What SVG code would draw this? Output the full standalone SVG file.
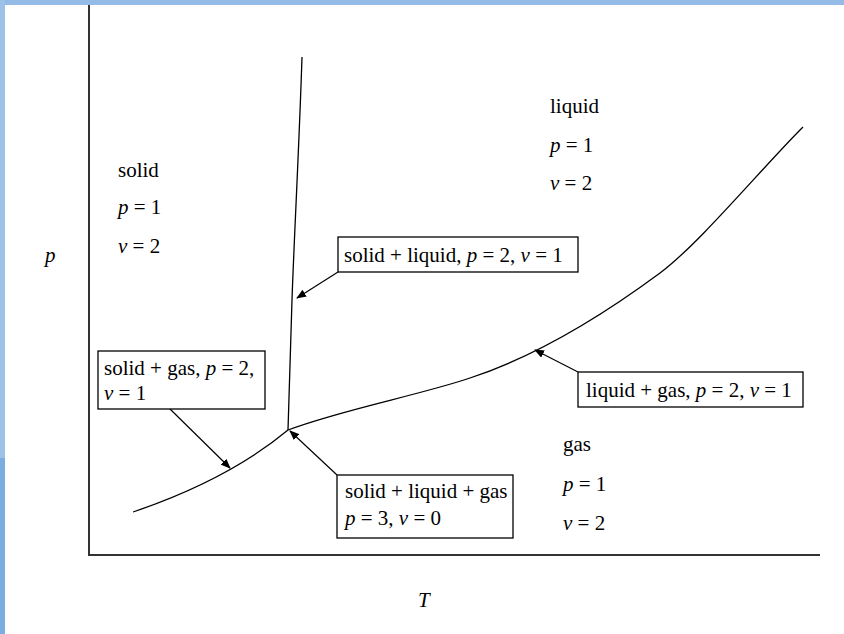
<svg xmlns="http://www.w3.org/2000/svg" width="844" height="634" viewBox="0 0 844 634">
<defs>
<marker id="ah" markerWidth="10" markerHeight="8" refX="9" refY="4" orient="auto" markerUnits="userSpaceOnUse">
<path d="M0,0 L10,4 L0,8 z" fill="#000"/>
</marker>
<style>
text{font-family:"Liberation Serif","Times New Roman",serif;font-size:21px;fill:#000}
.i{font-style:italic}
.box{fill:#fff;stroke:#000;stroke-width:1.3}
.curve{fill:none;stroke:#000;stroke-width:1.3}
.arr{fill:none;stroke:#000;stroke-width:1.2;marker-end:url(#ah)}
.axis{fill:none;stroke:#333;stroke-width:2}
</style>
</defs>
<rect x="0" y="0" width="844" height="634" fill="#fff"/>
<rect x="0" y="0" width="844" height="5" fill="#93bbe6"/>
<rect x="0" y="0" width="5" height="634" fill="#9dc2e8"/>
<rect x="0" y="458" width="5" height="176" fill="#7aaee0"/>

<g id="axes">
<path class="axis" d="M89,5 V555 H820"/>
<text id="label-p" class="i" x="45" y="262">p</text>
<text id="label-T" class="i" x="418" y="607">T</text>
</g>

<g id="curves">
<path id="solid-liquid" class="curve" d="M302,57 C299,150 294,240 292,300 L288,430"/>
<path id="liquid-gas" class="curve" d="M288,430 C340,410 420,395 470,378 C540,355 610,310 660,273 C700,243 760,170 803,127"/>
<path id="solid-gas" class="curve" d="M133,512 C180,496 240,470 288,430"/>
</g>

<g id="solid-region">
<text x="118" y="177">solid</text>
<text x="118" y="214"><tspan class="i">p</tspan> = 1</text>
<text x="118" y="253"><tspan class="i">ν</tspan> = 2</text>
</g>
<g id="liquid-region">
<text x="550" y="113">liquid</text>
<text x="550" y="152"><tspan class="i">p</tspan> = 1</text>
<text x="550" y="190"><tspan class="i">ν</tspan> = 2</text>
</g>
<g id="gas-region">
<text x="563" y="451">gas</text>
<text x="563" y="491"><tspan class="i">p</tspan> = 1</text>
<text x="563" y="530"><tspan class="i">ν</tspan> = 2</text>
</g>

<g id="connectors">
<path class="arr" d="M338,272 L297,298"/>
<path class="arr" d="M168,407 L230,468"/>
<path class="arr" d="M337,475 L290,431"/>
<path class="arr" d="M578,372 L535,350"/>
</g>

<g id="box-solid-liquid">
<rect class="box" x="338" y="237" width="240" height="35"/>
<text x="344" y="262">solid + liquid, <tspan class="i">p</tspan> = 2, <tspan class="i">ν</tspan> = 1</text>
</g>
<g id="box-solid-gas">
<rect class="box" x="98" y="351" width="167" height="58"/>
<text x="104" y="375">solid + gas, <tspan class="i">p</tspan> = 2,</text>
<text x="104" y="400"><tspan class="i">ν</tspan> = 1</text>
</g>
<g id="box-triple">
<rect class="box" x="337" y="475" width="176" height="63"/>
<text x="345" y="498">solid + liquid + gas</text>
<text x="345" y="525"><tspan class="i">p</tspan> = 3, <tspan class="i">ν</tspan> = 0</text>
</g>
<g id="box-liquid-gas">
<rect class="box" x="578" y="372" width="225" height="35"/>
<text x="586" y="397">liquid + gas, <tspan class="i">p</tspan> = 2, <tspan class="i">ν</tspan> = 1</text>
</g>
</svg>
